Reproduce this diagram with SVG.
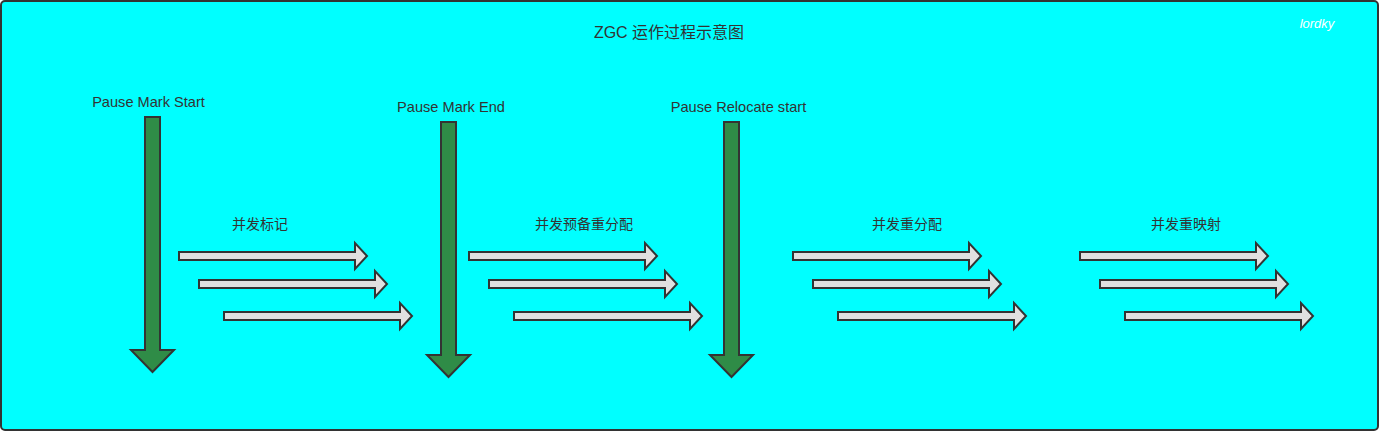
<svg xmlns="http://www.w3.org/2000/svg" xmlns:xlink="http://www.w3.org/1999/xlink" width="1381" height="434" viewBox="0 0 1381 434">
<style>
.t{font-family:"Liberation Sans","Noto Sans CJK SC",sans-serif;fill:#333333;text-anchor:middle}
.lbl{font-size:14.6px}
.cn{font-size:14px}
.ttl{font-size:16px}
.wm{font-family:"Liberation Sans",sans-serif;font-style:italic;font-size:13px;fill:#ffffff;text-anchor:middle}
.green{fill:#2f8c47;stroke:#333333;stroke-width:2;stroke-linejoin:miter}
.block{fill:#e0e0e0;stroke:#333333;stroke-width:2;stroke-linejoin:miter}
</style>
<defs>
<path id="down" d="M-7.5,0 H7.5 V233 H21.5 L0,255 L-21.5,233 H-7.5 Z"/>
<path id="right" d="M0,-4 H176 V-13 L188,0 L176,13 V4 H0 Z"/>
</defs>
<rect x="1" y="1" width="1377" height="429" rx="4" fill="#00ffff" stroke="#333333" stroke-width="2"/>
<text class="t ttl" x="669" y="38">ZGC 运作过程示意图</text>
<text class="wm" x="1317" y="28">lordky</text>

<g id="pause-mark-start">
<text class="t lbl" x="148.5" y="107">Pause Mark Start</text>
<use xlink:href="#down" class="green" transform="translate(152.5,117)"/>
</g>
<g id="pause-mark-end">
<text class="t lbl" x="451" y="112">Pause Mark End</text>
<use xlink:href="#down" class="green" transform="translate(448.5,122)"/>
</g>
<g id="pause-relocate-start">
<text class="t lbl" x="738.5" y="112">Pause Relocate start</text>
<use xlink:href="#down" class="green" transform="translate(731.5,122)"/>
</g>

<g id="concurrent-mark">
<text class="t cn" x="260" y="229">并发标记</text>
<use xlink:href="#right" class="block" transform="translate(179,256)"/>
<use xlink:href="#right" class="block" transform="translate(199,284)"/>
<use xlink:href="#right" class="block" transform="translate(224,316)"/>
</g>
<g id="concurrent-prepare-relocate">
<text class="t cn" x="584" y="229">并发预备重分配</text>
<use xlink:href="#right" class="block" transform="translate(469,256)"/>
<use xlink:href="#right" class="block" transform="translate(489,284)"/>
<use xlink:href="#right" class="block" transform="translate(514,316)"/>
</g>
<g id="concurrent-relocate">
<text class="t cn" x="907" y="229">并发重分配</text>
<use xlink:href="#right" class="block" transform="translate(793,256)"/>
<use xlink:href="#right" class="block" transform="translate(813,284)"/>
<use xlink:href="#right" class="block" transform="translate(838,316)"/>
</g>
<g id="concurrent-remap">
<text class="t cn" x="1186" y="229">并发重映射</text>
<use xlink:href="#right" class="block" transform="translate(1080,256)"/>
<use xlink:href="#right" class="block" transform="translate(1100,284)"/>
<use xlink:href="#right" class="block" transform="translate(1125,316)"/>
</g>
<g id="connectors"></g>
</svg>
